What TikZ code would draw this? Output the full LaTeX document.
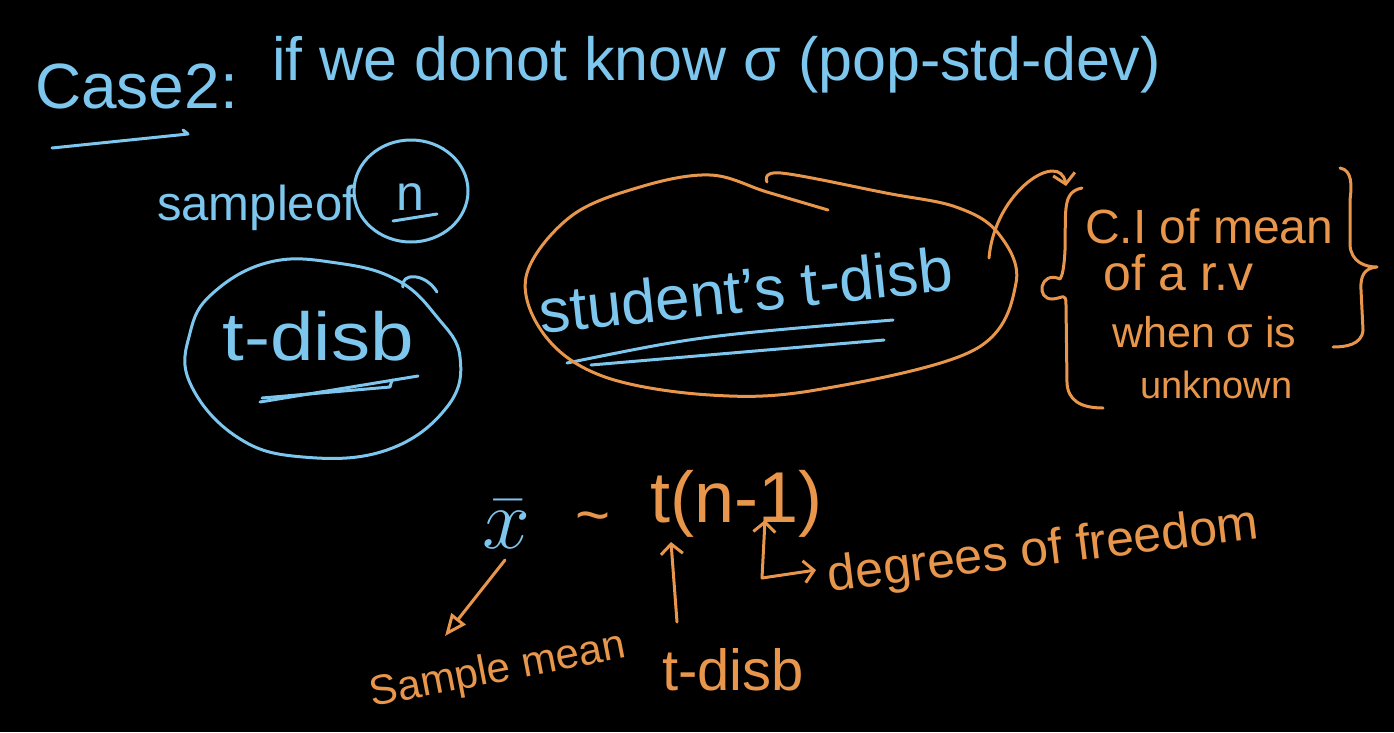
\documentclass[tikz,border=0pt]{standalone}
\usepackage{fix-cm}
\usepackage{fontspec}
\setmainfont{Liberation Sans}
\usetikzlibrary{arrows.meta}
\definecolor{blu}{HTML}{7DC6EE}
\definecolor{org}{HTML}{E8964B}
\newcommand\hsz[1]{\fontsize{#1}{#1}\selectfont}
\begin{document}
\begin{tikzpicture}[x=1pt,y=-1pt,
  txt/.style={inner sep=0pt, anchor=base},
  btxt/.style={txt, text=blu},
  otxt/.style={txt, text=org},
  bl/.style={draw=blu, line width=3pt, line cap=round, line join=round},
  orl/.style={draw=org, line width=3pt, line cap=round, line join=round},
  barb/.style={-{Straight Barb[length=10pt,width=22pt,line width=3pt]}},
]
\fill[black] (0,0) rectangle (1394,732);
\useasboundingbox (0,0) rectangle (1394,732);

% title
\node[btxt, anchor=base west, font=\hsz{64}] (case) at (35,108) {Case2:};
\node[btxt, anchor=base west, font=\hsz{61}] (title) at (272,80) {if we donot know σ (pop-std-dev)};
\coordinate (ul1) at (52,148);
\coordinate (ul2) at (188,134);
\draw[bl] (ul1) .. controls (120,141) .. (ul2) -- (183,130);

% sample of n
\node[btxt, anchor=base west, font=\hsz{49}] (sample) at (157,220) {sampleof};
\node[btxt, font=\hsz{50}] (n) at (410,210) {n};
\draw[bl] (393,221) -- (437,214);
\draw[bl] (411,191) ellipse [x radius=57, y radius=51];

% blue t-disb
\node[btxt, font=\hsz{68}] (tdisb) at (318,360) {\scalebox{1.15}[1]{t-disb}};
\draw[bl] plot[smooth cycle, tension=0.7] coordinates {(270,262) (337,263) (397,280) (437,317) (460,357) (447,407) (387,450) (303,457) (237,437) (190,383) (190,333) (213,293)};
\draw[bl] (403,287) .. controls (400,273) and (425,272) .. (437,292);
\draw[bl] (260,402) -- (418,376);
\draw[bl] (262,398) -- (390,387) -- (392,380);

% student's t-disb
\node[btxt, font=\hsz{62}, rotate=6] (stud) at (748,312) {student's t-disb};
\draw[bl] (567,363) .. controls (700,336) .. (893,320);
\draw[bl] (591,365) -- (884,340);
\draw[orl] plot[smooth, tension=0.6] coordinates {(767,182) (781,173) (886,193) (956,207) (998,233) (1016,283) (974,350) (816,390) (710,395) (605,377) (546,337) (526,277) (570,217) (640,187) (710,175) (767,192) (828,210)};

% arrow to braces
\coordinate (ea) at (989,258);
\coordinate (eb) at (1066,186);
\draw[orl, barb] (ea) .. controls (995,190) and (1060,150) .. (eb);

% braces
\draw[orl] (1082,188) .. controls (1062,192) and (1066,210) .. (1065,250)
  .. controls (1064,270) and (1062,276) .. (1060,279)
  .. controls (1040,270) and (1035,300) .. (1053,299)
  .. controls (1063,298) and (1066,292) .. (1066,305)
  -- (1067,383) .. controls (1068,400) and (1080,408) .. (1103,408);
\draw[orl] (1340,168) .. controls (1352,170) and (1352,185) .. (1350,200)
  -- (1350,245) .. controls (1351,262) and (1365,267) .. (1377,267)
  .. controls (1365,268) and (1360,275) .. (1361,290)
  -- (1363,330) .. controls (1362,345) and (1345,347) .. (1333,347);
\node[otxt, anchor=base west, font=\hsz{48}] (ci1) at (1085,243) {C.I of mean};
\node[otxt, anchor=base west, font=\hsz{50}] (ci2) at (1103,290) {of a r.v};
\node[otxt, anchor=base west, font=\hsz{43}] (ci3) at (1112,347) {when σ is};
\node[otxt, anchor=base west, font=\hsz{38}] (ci4) at (1140,398) {unknown};

% formula
\node[btxt, font=\hsz{86}] (xbar) at (506,548) {$\bar{x}$};
\node[otxt, font=\hsz{60}] (tilde) at (593,535) {\textasciitilde};
\node[otxt, anchor=base west, font=\hsz{72}] (tn) at (650,522) {t(n-1)};

% sample mean
\node[otxt, font=\hsz{42}, rotate=11] (smean) at (500,682) {Sample mean};
\coordinate (xa) at (505,560);
\coordinate (xb) at (445,636);
\draw[orl, -{Triangle[open, length=22pt, width=18pt, line width=3pt]}] (xa) -- (xb);

% t-disb
\node[otxt, anchor=base west, font=\hsz{58}] (tdisb2) at (662,690) {t-disb};
\coordinate (ta) at (677,622);
\coordinate (tb) at (671,542);
\draw[orl, barb] (ta) -- (tb);

% degrees of freedom
\node[otxt, font=\hsz{50}, rotate=7] (dof) at (1045,565) {degrees of freedom};
\coordinate (lc) at (762,578);
\coordinate (lu) at (765,520);
\coordinate (lr) at (816,570);
\draw[orl, barb] (lc) -- (lu);
\draw[orl, barb] (lc) -- (lr);
\end{tikzpicture}
\end{document}
